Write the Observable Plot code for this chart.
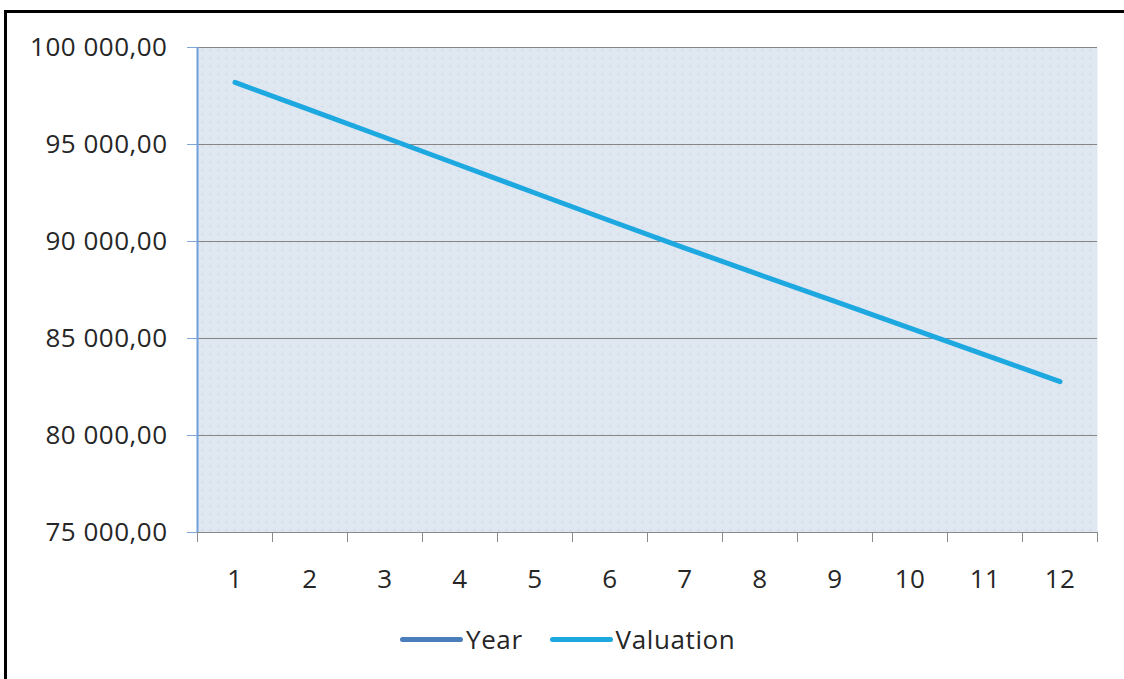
<!DOCTYPE html>
<html>
<head>
<meta charset="utf-8">
<script src="https://cdn.jsdelivr.net/npm/d3@7"></script>
<script src="https://cdn.jsdelivr.net/npm/@observablehq/plot@0.6"></script>
<style>
  html, body { margin: 0; padding: 0; background: #fff; overflow: hidden; }
  #wrap { position: relative; width: 1124px; height: 679px; overflow: hidden; background: #fff; }
  #border { position: absolute; left: 4px; top: 10px; width: 1120px; height: 669px; border-left: 3px solid #000; border-top: 3px solid #000; box-sizing: border-box; }
  #chart { position: absolute; left: 0; top: 0; }
  #legend { position: absolute; left: 400px; top: 621px; display: flex; align-items: center; font-family: "Open Sans", sans-serif; font-size: 26px; letter-spacing: 0.6px; color: #262626; }
  .sw { display: inline-block; width: 63px; height: 5px; border-radius: 3px; margin-right: 3px; }
  .item { display: flex; align-items: center; margin-right: 27px; }
</style>
</head>
<body>
<div id="wrap">
  <div id="border"></div>
  <div id="chart"></div>
  <div id="legend"></div>
</div>
<script>
const years = [1, 2, 3, 4, 5, 6, 7, 8, 9, 10, 11, 12];
const valuations = [98200, 96780, 95360, 93930, 92500, 91070, 89660, 88280, 86910, 85530, 84160, 82780];
const yTicks = [75000, 80000, 85000, 90000, 95000, 100000];
const seriesNames = ["Year", "Valuation"];

const colors = {Year: "#4a7ebb", Valuation: "#1ea8e0"};
const data = years.map((y, i) => ({year: y, value: valuations[i]}));
const boundaries = years.map(d => d - 0.5).concat([years[years.length - 1] + 0.5]);
const locale = d3.formatLocale({decimal: ",", thousands: "\u00a0", grouping: [3]});
const fmt = locale.format(",.2f");

const chart = Plot.plot({
  width: 1124,
  height: 610,
  marginLeft: 197,
  marginRight: 27,
  marginTop: 47,
  marginBottom: 78,
  x: {type: "linear", domain: [boundaries[0], boundaries[boundaries.length - 1]], label: null},
  y: {domain: [yTicks[0], yTicks[yTicks.length - 1]], label: null},
  style: {fontFamily: "'Open Sans', sans-serif", fontSize: "26px", letterSpacing: "0.5px", color: "#262626", background: "transparent"},
  marks: [
    Plot.frame({fill: "#dce5f0", stroke: null}),
    Plot.gridY(yTicks.slice(1), {stroke: "#868686", strokeOpacity: 1, strokeWidth: 1.2}),
    Plot.axisY(yTicks, {tickSize: 10, tickPadding: 20, tickFormat: fmt, stroke: "#7fa7d9", fill: "#262626", label: null}),
    Plot.ruleX([boundaries[0]], {stroke: "#6f9fdc", strokeWidth: 2}),
    Plot.ruleY([yTicks[0]], {stroke: "#8a8a8a", strokeWidth: 1.2}),
    Plot.axisX(boundaries, {tickSize: 10, tickFormat: () => "", stroke: "#8a8a8a", label: null}),
    Plot.axisX(years, {tickSize: 0, tickPadding: 37, tickFormat: d => String(d), fill: "#262626", label: null}),
    Plot.line(data, {x: "year", y: "value", stroke: colors.Valuation, strokeWidth: 5, strokeLinecap: "round", strokeLinejoin: "round"})
  ]
});

// dotted texture for plot background
const ns = "http://www.w3.org/2000/svg";
const defs = document.createElementNS(ns, "defs");
defs.innerHTML = '<pattern id="dots" width="8" height="8" patternUnits="userSpaceOnUse">' +
  '<rect width="8" height="8" fill="#dfe7f1"/><circle cx="2" cy="2" r="1" fill="#cdd8e6"/></pattern>';
chart.insertBefore(defs, chart.firstChild);
const frame = chart.querySelector('[aria-label="frame"]');
if (frame) { (frame.tagName === "rect" ? frame : frame.querySelector("rect")).setAttribute("fill", "url(#dots)"); }

document.getElementById("chart").appendChild(chart);

const legend = document.getElementById("legend");
seriesNames.forEach(name => {
  const item = document.createElement("div");
  item.className = "item";
  const sw = document.createElement("span");
  sw.className = "sw";
  sw.style.background = colors[name];
  const t = document.createElement("span");
  t.textContent = name;
  item.appendChild(sw);
  item.appendChild(t);
  legend.appendChild(item);
});
</script>
</body>
</html>
